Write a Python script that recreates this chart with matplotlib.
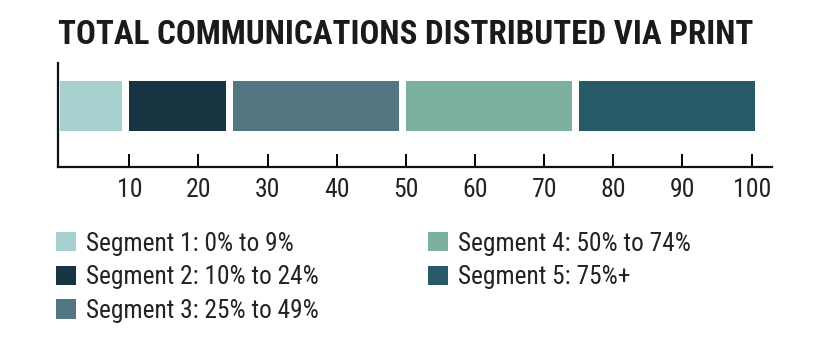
import matplotlib
matplotlib.use("Agg")
import matplotlib.pyplot as plt

# datos de los segmentos
segmentos = ["Segment 1: 0% to 9%", "Segment 2: 10% to 24%", "Segment 3: 25% to 49%",
             "Segment 4: 50% to 74%", "Segment 5: 75%+"]
inicio = [0, 10, 25, 50, 75]
fin = [9, 24, 49, 74, 100.5]
colores = ["#a7d1cf", "#163441", "#527782", "#7bb09c", "#295a68"]
marcas = [10, 20, 30, 40, 50, 60, 70, 80, 90, 100]

plt.rcParams['font.family'] = ['Roboto Condensed', 'DejaVu Sans']

fig = plt.figure(figsize=(8.2, 3.55), dpi=100)
ax = fig.add_axes([0.0704, 0.5304, 0.8707, 0.293])

anchos = [f - i for i, f in zip(inicio, fin)]
barras = []
for i in range(len(segmentos)):
    b = ax.barh(0.587, anchos[i], left=inicio[i], height=0.481,
                color=colores[i], label=segmentos[i])
    barras.append(b)

ax.set_xlim(-0.35, 102.9)
ax.set_ylim(0, 1)
ax.set_xticks(marcas)
ax.set_yticks([])
ax.tick_params(axis='x', direction='in', length=9.5, width=1.4, pad=8,
               labelsize=18.5, labelcolor='#222222')
for s in ['top', 'right']:
    ax.spines[s].set_visible(False)
for s in ['left', 'bottom']:
    ax.spines[s].set_linewidth(1.6)
    ax.spines[s].set_color('#111111')

# titulo
fig.text(58 / 820, 1 - 43.5 / 355, "TOTAL COMMUNICATIONS DISTRIBUTED VIA PRINT",
         fontsize=23.8, fontweight='bold', color='#1a1a1a', va='baseline')

leg = ax.legend(handles=barras, ncol=2, loc='upper left',
                bbox_to_anchor=(56 / 820, 1 - 231.5 / 355), bbox_transform=fig.transFigure,
                frameon=False, fontsize=18.3, handlelength=0.79, handleheight=0.79,
                handletextpad=0.38, labelspacing=0.38, columnspacing=4.3,
                borderpad=0, borderaxespad=0)
for t in leg.get_texts():
    t.set_color('#222222')

fig.savefig("out.png", dpi=100)
